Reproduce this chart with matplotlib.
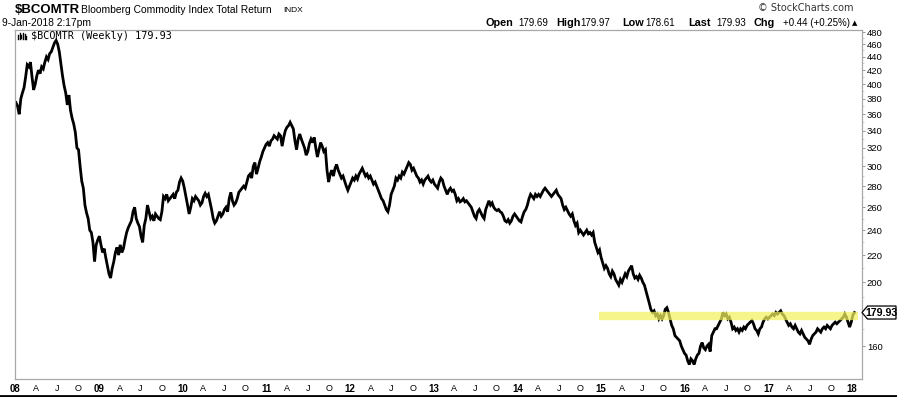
import matplotlib
matplotlib.use('Agg')
import matplotlib.pyplot as plt
import pandas as pd
import numpy as np
from matplotlib.patches import Polygon
from matplotlib.lines import Line2D
from matplotlib.ticker import FixedLocator, NullFormatter

plt.rcParams['font.family'] = ['Liberation Sans', 'DejaVu Sans']

# ---------------- data: weekly closes ----------------
close_2008 = [375, 370, 360, 380, 388, 395, 410, 428, 425, 432, 410, 392, 400,
              412, 420, 415, 425, 422, 432, 440, 436, 445, 448, 455, 462, 466,
              460, 448, 430, 412, 398, 388, 372, 385, 365, 355, 348, 338, 320,
              318, 300, 285, 278, 262, 255, 250, 240, 238, 230, 215, 228, 232]
close_2009 = [235, 228, 222, 225, 218, 212, 206, 203, 210, 215, 222, 226, 220,
              228, 222, 225, 232, 238, 242, 245, 248, 256, 260, 250, 246, 243,
              235, 230, 244, 250, 262, 256, 250, 252, 248, 254, 252, 250, 249,
              256, 270, 268, 272, 266, 268, 270, 272, 268, 274, 276, 284, 288]
close_2010 = [285, 278, 270, 262, 254, 260, 268, 266, 270, 268, 266, 262, 264,
              270, 273, 270, 272, 265, 258, 250, 246, 248, 252, 256, 252, 254,
              258, 260, 256, 268, 274, 266, 262, 264, 268, 274, 276, 278, 280,
              278, 284, 290, 292, 288, 300, 304, 292, 298, 305, 310, 316, 320, 324]
close_2011 = [326, 322, 328, 330, 334, 332, 330, 336, 334, 322, 332, 340, 344,
              346, 350, 346, 342, 328, 318, 330, 336, 330, 325, 320, 312, 316,
              325, 330, 326, 332, 320, 310, 318, 326, 322, 316, 318, 296, 284,
              292, 296, 290, 298, 302, 296, 292, 288, 290, 285, 280, 276, 280]
close_2012 = [284, 288, 286, 290, 287, 292, 295, 298, 294, 290, 292, 288, 290,
              286, 282, 284, 280, 276, 272, 268, 266, 262, 258, 256, 262, 272,
              276, 280, 288, 286, 290, 288, 294, 292, 296, 300, 304, 302, 296,
              298, 294, 290, 288, 284, 286, 282, 286, 288, 290, 286, 284, 286]
close_2013 = [282, 280, 278, 284, 288, 286, 280, 276, 272, 276, 278, 275, 276,
              272, 266, 268, 265, 266, 268, 265, 266, 264, 262, 260, 256, 252,
              250, 256, 258, 255, 252, 250, 258, 262, 266, 262, 264, 260, 258,
              257, 258, 256, 255, 252, 248, 247, 249, 246, 248, 252, 254, 252]
close_2014 = [250, 248, 247, 252, 256, 258, 262, 268, 272, 270, 268, 272, 270,
              272, 270, 273, 276, 278, 276, 274, 272, 270, 272, 274, 276, 272,
              270, 268, 262, 258, 260, 257, 254, 252, 254, 248, 244, 246, 238,
              240, 238, 236, 238, 240, 237, 238, 236, 238, 230, 226, 222, 224]
close_2015 = [218, 214, 210, 212, 210, 206, 204, 208, 206, 202, 200, 198, 202,
              200, 203, 206, 204, 208, 210, 212, 206, 203, 204, 202, 205, 203,
              200, 198, 194, 190, 186, 182, 180, 181, 178, 179, 176, 178, 176,
              178, 182, 183, 180, 176, 172, 170, 166, 165, 164, 163, 160, 158]
close_2016 = [156, 155, 152, 150, 153, 152, 150, 153, 155, 156, 160, 162, 159,
              158, 160, 161, 157, 166, 168, 170, 170, 172, 174, 176, 180, 178,
              179, 176, 177, 174, 170, 171, 169, 170, 168, 170, 169, 171, 170,
              172, 173, 174, 175, 173, 170, 169, 167, 170, 171, 174, 176, 177, 176]
close_2017 = [177, 178, 179, 178, 180, 179, 180, 181, 179, 178, 176, 174, 172,
              173, 171, 170, 172, 170, 168, 167, 169, 167, 165, 164, 163, 161,
              164, 166, 167, 168, 170, 169, 168, 170, 171, 170, 172, 171, 170,
              172, 173, 174, 173, 174, 175, 176, 177, 179, 177, 174, 171, 174]
close_2018 = [178.3, 179.93]

year_closes = {2008: close_2008, 2009: close_2009, 2010: close_2010,
               2011: close_2011, 2012: close_2012, 2013: close_2013,
               2014: close_2014, 2015: close_2015, 2016: close_2016,
               2017: close_2017, 2018: close_2018}

last_price = 179.93
resistance_level = 178.0
resistance_start = '2014-12-24'
resistance_end = '2018-01-26'

year_labels = ['08', '09', '10', '11', '12', '13', '14', '15', '16', '17', '18']
month_labels = ['A', 'J', 'O']
ytick_values = [160, 180, 200, 220, 240, 260, 280, 300, 320, 340, 360, 380,
                400, 420, 440, 460, 480]

# ---------------- build series ----------------
dates_list, vals = [], []
for yr, cl in year_closes.items():
    first = pd.date_range(f'{yr}-01-01', periods=7, freq='D')
    first_fri = [d for d in first if d.weekday() == 4][0]
    dates_list.extend(pd.date_range(first_fri, periods=len(cl), freq='7D'))
    vals.extend(cl)
dates = pd.DatetimeIndex(dates_list)
closes = np.array(vals, dtype=float)

# ---------------- figure ----------------
W, H = 897, 397
fig = plt.figure(figsize=(W / 100, H / 100), dpi=100)
fig.patch.set_facecolor('white')

def fx(px):
    return px / W

def fy(py):
    return 1 - py / H

ax = fig.add_axes([fx(15), fy(379), fx(862) - fx(15), fy(30) - fy(379)])
ax.set_facecolor('white')

ax.plot(dates, closes, color='black', lw=2.0, solid_joinstyle='miter')

ax.hlines(resistance_level, pd.Timestamp(resistance_start), pd.Timestamp(resistance_end),
          colors='#f2f260', lw=6, alpha=0.72, zorder=3)

ax.set_yscale('log')
ax.set_ylim(142.6, 483.4)
ax.set_xlim(pd.Timestamp('2007-12-30 15:00'), pd.Timestamp('2018-02-14'))

# x ticks
xt, xl, xw = [], [], []
for i, yl in enumerate(year_labels):
    yr = 2008 + i
    xt.append(pd.Timestamp(f'{yr}-01-01')); xl.append(yl); xw.append('bold')
    if yr < 2018:
        for m, ml in zip([4, 7, 10], month_labels):
            xt.append(pd.Timestamp(f'{yr}-{m:02d}-01')); xl.append(ml); xw.append('normal')
ax.set_xticks(xt)
ax.set_xticklabels(xl)
for t, w in zip(ax.get_xticklabels(), xw):
    t.set_fontweight(w)
    t.set_fontsize(7 if w == 'bold' else 6.5)
ax.tick_params(axis='x', length=0, pad=3.5, colors='black')

# y ticks (right side)
ax.yaxis.tick_right()
ax.yaxis.set_major_locator(FixedLocator(ytick_values))
ax.set_yticklabels([str(v) if v != 180 else '' for v in ytick_values])
ax.yaxis.set_minor_locator(FixedLocator([v + 10 for v in ytick_values[:-1]]))
ax.yaxis.set_minor_formatter(NullFormatter())
ax.tick_params(axis='y', which='major', length=2.5, width=0.6, color='#888888',
               pad=1, labelsize=6.8, labelcolor='black')
ax.tick_params(axis='y', which='minor', length=1.5, width=0.5, color='#bbbbbb')

for s in ax.spines.values():
    s.set_color('#a8a8a8')
    s.set_linewidth(0.9)

# ---------------- header texts ----------------
fig.text(fx(15), fy(10), '$BCOMTR', fontsize=9.5, fontweight='bold', va='center', ha='left')
fig.text(fx(81), fy(10), 'Bloomberg Commodity Index Total Return', fontsize=7.4,
         va='center', ha='left')
fig.text(fx(283), fy(10.5), 'INDX', fontsize=6, va='center', ha='left')
fig.text(fx(2), fy(23), '9-Jan-2018 2:17pm', fontsize=7.4, va='center', ha='left')
fig.text(fx(853), fy(8), '\u00a9 StockCharts.com', fontsize=7, va='center', ha='right',
         color='#333333', family=['DejaVu Sans'])

hdr = [(485, 'Open', True), (518, '179.69', False), (556, 'High', True),
       (580, '179.97', False), (622, 'Low', True), (645, '178.61', False),
       (688, 'Last', True), (716, '179.93', False), (753, 'Chg', True),
       (783, '+0.44 (+0.25%)', False)]
for x, s, b in hdr:
    fig.text(fx(x), fy(23.5), s, fontsize=7.8 if b else 7,
             fontweight='bold' if b else 'normal', va='center', ha='left')
fig.text(fx(855), fy(23), '\u25b2', fontsize=5, va='center', ha='center',
         family=['DejaVu Sans'])

# in-chart legend
fig.text(fx(31), fy(36), '$BCOMTR (Weekly) 179.93', fontsize=7.3, va='center',
         ha='left', family=['DejaVu Sans Mono'])
for xx, y0, y1 in [(18, 38.5, 34.5), (19.5, 39, 33), (21, 38, 35), (23, 39, 32.5),
                   (24.5, 38.5, 34), (26, 39, 35.5)]:
    fig.add_artist(Line2D([fx(xx), fx(xx)], [fy(y0), fy(y1)], color='black', lw=1.0))

# last price marker
ypix = ax.transData.transform((ax.get_xlim()[0], last_price))[1]
ytop = H - ypix
pts = [(862, ytop), (867.5, ytop - 6.5), (896, ytop - 6.5), (896, ytop + 6.5),
       (867.5, ytop + 6.5)]
fig.add_artist(Polygon([(fx(a), fy(b)) for a, b in pts], closed=True,
                       transform=fig.transFigure, fc='white', ec='black', lw=0.9))
fig.text(fx(881.5), fy(ytop), f'{last_price:.2f}', fontsize=7.6, fontweight='bold',
         va='center', ha='center')

# bottom rule
fig.add_artist(Line2D([0, 1], [fy(396), fy(396)], color='black', lw=2.0))

fig.savefig('out.png', dpi=100, facecolor='white')
